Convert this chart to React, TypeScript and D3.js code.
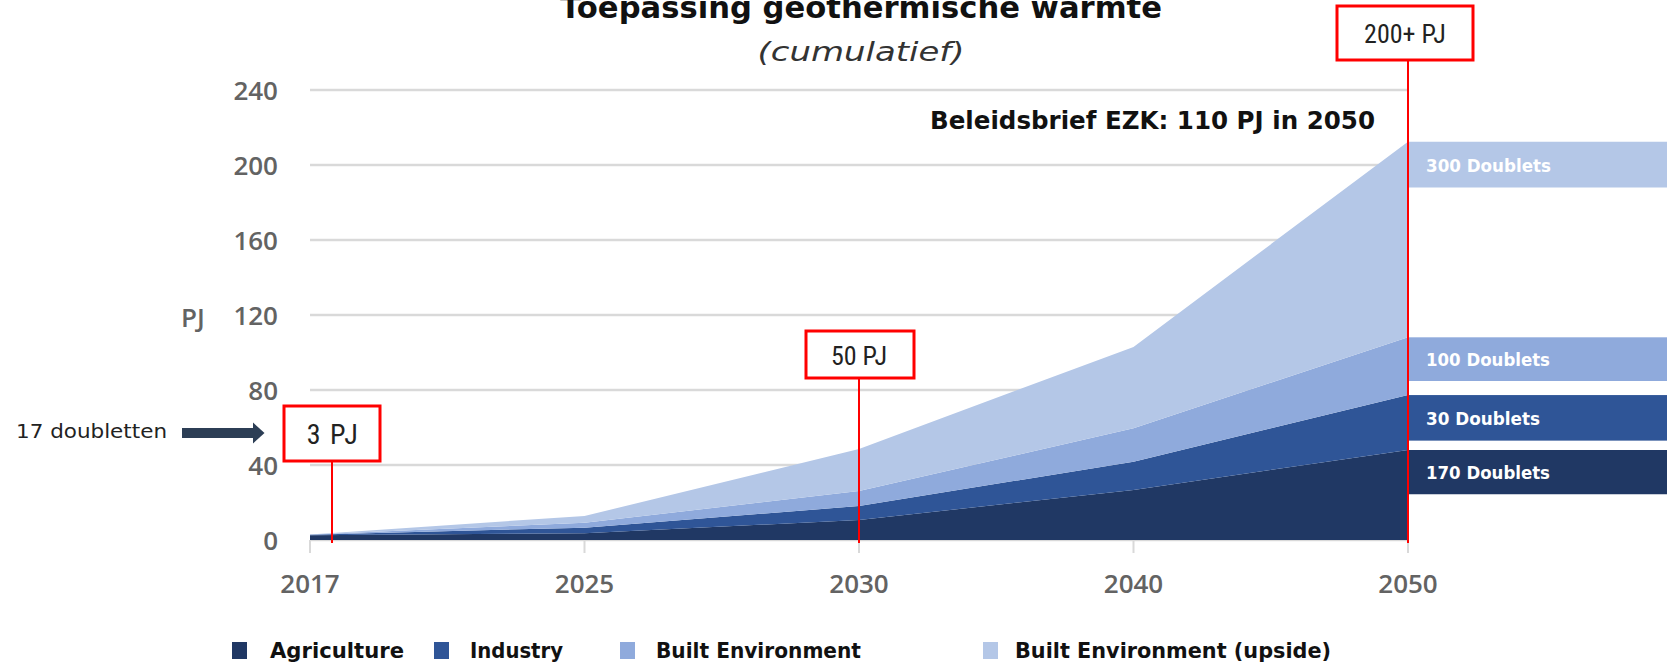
import { useMemo } from "react";
import * as d3 from "d3";

// Cumulative geothermal heat use, PJ
const years = ["2017", "2025", "2030", "2040", "2050"];
const agriculture = [2.5, 3.6, 10.7, 26.7, 48];
const industry = [0.3, 3.0, 7.4, 15.1, 29.3];
const builtEnv = [0.2, 2.6, 8.0, 17.8, 30.8];
const builtEnvUpside = [0, 3.6, 22.4, 43.4, 104.3];

const seriesKeys = ["agriculture", "industry", "builtEnv", "builtEnvUpside"];
const seriesNames = ["Agriculture", "Industry", "Built Environment", "Built Environment (upside)"];
const seriesColors = ["#203864", "#2f5597", "#8faadc", "#b4c7e7"];

const yTicks = [0, 40, 80, 120, 160, 200, 240];

// doublet bands at the right edge (bottom value in PJ), one per series
const doubletLabels = ["170 Doublets", "30 Doublets", "100 Doublets", "300 Doublets"];
const doubletBottoms = [24.4, 53, 84.8, 188];

// red call-out boxes
const calloutYears = ["2017", "2030", "2050"];
const calloutLabels = ["3 PJ", "50 PJ", "200+ PJ"];

const W = 1667;
const H = 668;

export default function App() {
    const x = d3.scalePoint().domain(years).range([310, 1408]);
    const y = d3.scaleLinear().domain([0, 240]).range([540, 90]);

    const stacked = useMemo(() => {
        const table = years.map((yr, i) => ({
            year: yr,
            agriculture: agriculture[i],
            industry: industry[i],
            builtEnv: builtEnv[i],
            builtEnvUpside: builtEnvUpside[i],
        }));
        return d3.stack().keys(seriesKeys)(table as any);
    }, []);

    const area = d3
        .area<any>()
        .x((d) => x(d.data.year)!)
        .y0((d) => y(d[0]))
        .y1((d) => y(d[1]));

    const gridLeft = x.range()[0];
    const gridRight = x.range()[1];
    const last = years.length - 1;

    // callout box geometry (pixel sizes only; anchors come from scales)
    const callouts = [
        { bx: x("2017")! - 26, by: 406, bw: 96, bh: 55, lineX: x("2017")! + 22, fs: 28, tx: x("2017")! + 23 },
        { bx: x("2030")! - 53, by: 331, bw: 108, bh: 47, lineX: x("2030")!, fs: 26, tx: x("2030")! },
        { bx: x("2050")! - 71, by: 6, bw: 136, bh: 54, lineX: x("2050")!, fs: 26, tx: x("2050")! - 3 },
    ];
    const narrow = "'Liberation Sans Narrow', 'Roboto Condensed', Roboto, sans-serif";
    const gothic = "'DejaVu Sans', sans-serif";
    const axisFont = "'Open Sans', sans-serif";

    const legendItems = [
        { sq: 232, tx: 270, tw: 134 },
        { sq: 434, tx: 470, tw: 93 },
        { sq: 620, tx: 656, tw: 205 },
        { sq: 983, tx: 1015, tw: 316 },
    ];
    const bandTextW = [124, 114, 124, 125];

    return (
        <svg
            width={W}
            height={H}
            style={{ position: "absolute", left: 0, top: 0, display: "block", background: "#fff" }}
        >
            {/* gridlines */}
            {yTicks.map((t) => (
                <line key={t} x1={gridLeft} x2={gridRight} y1={y(t)} y2={y(t)} stroke="#d9d9d9" strokeWidth={2.5} />
            ))}
            {/* y tick labels */}
            {yTicks.map((t) => (
                <text
                    key={"yl" + t}
                    x={278}
                    y={y(t)}
                    textAnchor="end"
                    dominantBaseline="central"
                    fontFamily={axisFont}
                    fontSize={26}
                    fontWeight={600}
                    fill="#636363"
                >
                    {t}
                </text>
            ))}
            <text x={193} y={y(120) + 2} textAnchor="middle" dominantBaseline="central" fontFamily={axisFont} fontSize={26} fontWeight={600} fill="#636363">
                PJ
            </text>

            {/* x ticks and labels */}
            {years.map((yr) => (
                <g key={yr}>
                    <line x1={x(yr)} x2={x(yr)} y1={y(0)} y2={y(0) + 13} stroke="#d9d9d9" strokeWidth={2} />
                    <text
                        x={x(yr)}
                        y={y(0) + 43}
                        textAnchor="middle"
                        dominantBaseline="central"
                        fontFamily={axisFont}
                        fontSize={26}
                        fontWeight={600}
                        fill="#636363"
                    >
                        {yr}
                    </text>
                </g>
            ))}

            {/* stacked areas */}
            {stacked.map((s, i) => (
                <path key={s.key} d={area(s as any)!} fill={seriesColors[i]} />
            ))}

            {/* doublet bands right of 2050 */}
            {stacked.map((s, i) => {
                const top = y(s[last][1]);
                const bottom = y(doubletBottoms[i]);
                return (
                    <g key={"band" + i}>
                        <rect x={x("2050")} y={top} width={W - x("2050")!} height={bottom - top} fill={seriesColors[i]} />
                        <text
                            x={x("2050")! + 18}
                            y={(top + bottom) / 2 + 1}
                            dominantBaseline="central"
                            fontFamily={gothic}
                            fontWeight="bold"
                            fontSize={17}
                            fill="#fff"
                            textLength={bandTextW[i]}
                            lengthAdjust="spacingAndGlyphs"
                        >
                            {doubletLabels[i]}
                        </text>
                    </g>
                );
            })}

            {/* red callouts */}
            {callouts.map((c, i) => (
                <g key={calloutYears[i]}>
                    <line x1={c.lineX} x2={c.lineX} y1={c.by + c.bh} y2={y(0) + 3} stroke="#ff0000" strokeWidth={2} />
                    <rect x={c.bx} y={c.by} width={c.bw} height={c.bh} fill="#fff" stroke="#ff0000" strokeWidth={3} />
                    <text
                        x={c.tx}
                        y={c.by + c.bh / 2 + 1}
                        textAnchor="middle"
                        dominantBaseline="central"
                        fontFamily={narrow}
                        fontSize={c.fs}
                        fill="#222"
                        letterSpacing={i === 0 ? 1.5 : 0}
                    >
                        {calloutLabels[i]}
                    </text>
                </g>
            ))}

            {/* 17 doubletten arrow */}
            <text x={16} y={431} dominantBaseline="central" fontFamily={gothic} fontSize={19} fill="#222" textLength={151} lengthAdjust="spacingAndGlyphs">
                17 doubletten
            </text>
            <rect x={182} y={428} width={72} height={10} fill="#2c3e55" />
            <path d="M253,422.5 L264.5,433 L253,443.5 Z" fill="#2c3e55" />

            {/* titles (top of the main title is cut off in the original as well) */}
            <text x={861} y={18} textAnchor="middle" fontFamily={gothic} fontWeight="bold" fontSize={30} fill="#111" textLength={602} lengthAdjust="spacingAndGlyphs">
                Toepassing geothermische warmte
            </text>
            <text x={861} y={61} textAnchor="middle" fontFamily={gothic} fontStyle="italic" fontSize={27} fill="#333" textLength={207} lengthAdjust="spacingAndGlyphs">
                (cumulatief)
            </text>
            <text x={930} y={129} fontFamily={gothic} fontWeight="bold" fontSize={25} fill="#111" textLength={445} lengthAdjust="spacingAndGlyphs">
                Beleidsbrief EZK: 110 PJ in 2050
            </text>

            {/* legend */}
            {seriesNames.map((name, i) => (
                <g key={name}>
                    <rect x={legendItems[i].sq} y={642} width={15} height={17} fill={seriesColors[i]} />
                    <text
                        x={legendItems[i].tx}
                        y={651}
                        dominantBaseline="central"
                        fontFamily={gothic}
                        fontWeight="bold"
                        fontSize={21}
                        fill="#111"
                        textLength={legendItems[i].tw}
                        lengthAdjust="spacingAndGlyphs"
                    >
                        {name}
                    </text>
                </g>
            ))}
        </svg>
    );
}
